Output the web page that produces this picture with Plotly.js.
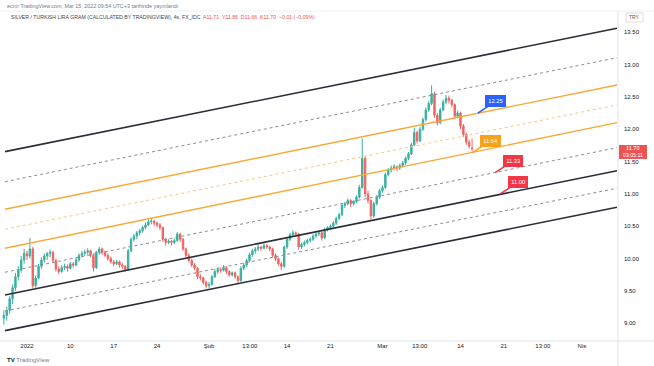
<!DOCTYPE html>
<html><head><meta charset="utf-8">
<script src="https://cdn.plot.ly/plotly-3.0.1.min.js"></script>
<style>html,body{margin:0;padding:0;background:#fff;}#chart{width:654px;height:366px;}</style>
</head><body><div id="chart"></div>
<script>
// ---- data ----
const firstBarDay = -2.667;   // trading-day index of the first bar (day 0 = 3 Jan 2022)
const barsPerDay = 3;
const openP = [9.08,9.12,9.2,9.38,9.55,9.72,9.82,9.98,
10.08,10.04,10.15, 9.58,9.7,9.88, 9.98,10.04,10.08, 10.1,9.97,9.84, 9.8,9.86,9.88, 9.85,9.92,9.9,
9.98,10.05,10.08, 10.1,10.12,10.05, 9.86,10.1,10.15, 10.1,10.05,10.0, 9.95,9.92,9.95, 9.9,9.88,9.83,
10.12,10.3,10.35, 10.4,10.43,10.48, 10.52,10.57,10.58, 10.55,10.52,10.48, 10.3,10.25,10.27, 10.25,10.28,10.38,
10.3,10.15,10.05, 9.97,9.9,9.85, 9.72,9.7,9.63, 9.58,9.6,9.72, 9.8,9.83,9.82, 9.86,9.8,9.75,
9.78,9.72,9.66, 9.85,9.9,9.97, 10.06,10.12,10.15, 10.18,10.16,10.2, 10.18,10.15,10.05, 10.0,9.92,9.88,
10.18,10.3,10.37, 10.4,10.38,10.18, 10.22,10.25,10.28, 10.3,10.35,10.38, 10.4,10.32,10.45, 10.48,10.5,10.55,
10.62,10.68,10.82, 10.85,10.9,10.85, 10.88,10.95,11.1, 11.55,11.0,10.9, 10.66,10.85,10.95, 11.05,11.1,11.3,
11.37,11.4,11.42, 11.4,11.44,11.48, 11.55,11.62,11.76, 11.95,11.82,12.0, 12.15,12.3,12.4, 12.55,12.22,12.1,
12.3,12.42,12.48, 12.45,12.38,12.2, 12.25,12.05,11.92, 11.8,11.71];
const highP = [9.2,9.26,9.42,9.6,9.78,9.88,10.04,10.15,
10.12,10.32,10.18, 9.74,9.92,10.02, 10.08,10.1,10.14, 10.12,10.0,9.88, 9.9,9.92,9.91, 9.95,9.95,10.02,
10.08,10.12,10.14, 10.16,10.14,10.08, 10.12,10.18,10.17, 10.12,10.08,10.03, 9.98,9.98,9.97, 9.93,9.9,10.15,
10.33,10.38,10.43, 10.46,10.51,10.56, 10.6,10.62,10.6, 10.57,10.55,10.5, 10.32,10.3,10.29, 10.31,10.41,10.4,
10.32,10.17,10.08, 10.0,9.93,9.87, 9.76,9.72,9.66, 9.64,9.75,9.84, 9.86,9.86,9.9, 9.88,9.82,9.8,
9.8,9.74,9.88, 9.93,10.0,10.09, 10.15,10.18,10.22, 10.2,10.24,10.23, 10.2,10.17,10.08, 10.02,9.95,10.2,
10.33,10.4,10.44, 10.42,10.4,10.25, 10.28,10.31,10.33, 10.38,10.41,10.43, 10.42,10.48,10.5, 10.53,10.58,10.65,
10.71,10.85,10.88, 10.93,10.92,10.9, 10.98,11.14,11.86, 11.58,11.05,10.92, 10.88,10.98,11.08, 11.13,11.33,11.4,
11.44,11.46,11.44, 11.47,11.51,11.58, 11.65,11.79,12.02, 11.98,12.04,12.18, 12.34,12.44,12.68, 12.58,12.25,12.33,
12.46,12.53,12.52, 12.47,12.4,12.29, 12.27,12.08,11.95, 11.84,11.86];
const lowP = [8.98,9.04,9.15,9.3,9.5,9.66,9.78,9.92,
9.98,10.0,9.54, 9.55,9.68,9.84, 9.94,9.98,10.02, 9.94,9.8,9.76, 9.78,9.82,9.8, 9.83,9.86,9.88,
9.95,10.02,10.04, 10.06,10.02,9.8, 9.84,10.06,10.06, 10.02,9.97,9.92, 9.88,9.9,9.86, 9.84,9.8,9.82,
10.1,10.26,10.3, 10.36,10.4,10.45, 10.5,10.53,10.5, 10.48,10.44,10.26, 10.2,10.22,10.2, 10.22,10.26,10.26,
10.12,10.02,9.94, 9.87,9.82,9.68, 9.66,9.6,9.54, 9.54,9.58,9.7, 9.76,9.78,9.8, 9.76,9.72,9.72,
9.69,9.62,9.64, 9.82,9.87,9.95, 10.03,10.08,10.12, 10.12,10.14,10.15, 10.12,10.02,9.96, 9.89,9.82,9.86,
10.15,10.27,10.34, 10.34,10.14,10.15, 10.19,10.22,10.25, 10.27,10.32,10.35, 10.28,10.3,10.42, 10.45,10.48,10.52,
10.6,10.66,10.78, 10.82,10.8,10.82, 10.86,10.93,11.08, 10.95,10.85,10.6, 10.63,10.82,10.92, 11.02,11.08,11.27,
11.33,11.36,11.35, 11.37,11.41,11.45, 11.52,11.6,11.74, 11.78,11.8,11.97, 12.12,12.27,12.37, 12.18,12.06,12.08,
12.28,12.39,12.4, 12.34,12.16,12.17, 12.0,11.88,11.76, 11.7,11.66];
const closeP = [9.12,9.2,9.38,9.55,9.72,9.82,9.98,10.08,
10.04,10.15,9.58, 9.7,9.88,9.98, 10.04,10.08,10.1, 9.97,9.84,9.8, 9.86,9.88,9.85, 9.92,9.9,9.98,
10.05,10.08,10.1, 10.12,10.05,9.86, 10.1,10.15,10.1, 10.05,10.0,9.95, 9.92,9.95,9.9, 9.88,9.83,10.12,
10.3,10.35,10.4, 10.43,10.48,10.52, 10.57,10.58,10.55, 10.52,10.48,10.3, 10.25,10.27,10.25, 10.28,10.38,10.3,
10.15,10.05,9.97, 9.9,9.85,9.72, 9.7,9.63,9.58, 9.6,9.72,9.8, 9.83,9.82,9.86, 9.8,9.75,9.78,
9.72,9.66,9.85, 9.9,9.97,10.06, 10.12,10.15,10.18, 10.16,10.2,10.18, 10.15,10.05,10.0, 9.92,9.88,10.18,
10.3,10.37,10.4, 10.38,10.18,10.22, 10.25,10.28,10.3, 10.35,10.38,10.4, 10.32,10.45,10.48, 10.5,10.55,10.62,
10.68,10.82,10.85, 10.9,10.85,10.88, 10.95,11.1,11.55, 11.0,10.9,10.66, 10.85,10.95,11.05, 11.1,11.3,11.37,
11.4,11.42,11.4, 11.44,11.48,11.55, 11.62,11.76,11.95, 11.82,12.0,12.15, 12.3,12.4,12.55, 12.22,12.1,12.3,
12.42,12.48,12.45, 12.38,12.2,12.25, 12.05,11.92,11.8, 11.74,11.7];

const tickDays   = [0,5,10,15,21,25.7,30,35,41,45.3,50,55,59.5,64];
const tickLabels = ['2022','10','17','24','Şub','13:00','14','21','Mar','13:00','14','21','13:00','Nis'];

// channel drawings: value at left end and right end
const chanDays  = [-2.54, 68.05];
const chanKind  = ['dark','grayDash','orange','orangeDash','orange','grayDash','dark','grayDash','dark'];
const chanStart = [11.654, 11.19, 10.763, 10.454, 10.16, 9.789, 9.438, 9.19, 8.886];
const chanEnd   = [13.562, 13.107, 12.685, 12.376, 12.102, 11.716, 11.36, 11.088, 10.794];

const calloutLabels = ['12.25','11.64','11.33','11.00'];
const calloutValues = [12.25, 11.64, 11.33, 11.00];
const calloutDays   = [52.0, 51.4, 54.0, 54.6];
const calloutColors = ['#2962ff','#f7a21b','#f23645','#f23645'];

const lastPrice = 11.70, countdown = '03:05:11';

// ---- build ----
const barX = closeP.map((_, i) => firstBarDay + i / barsPerDay);
const styles = {
  dark: {color:'#2a2e39', width:1.6},
  grayDash: {color:'#8a8d96', width:1, dash:'3px,3px'},
  orange: {color:'#f7a93a', width:1.4},
  orangeDash: {color:'#f8c784', width:1, dash:'3px,3px'}
};
const traces = [{
  type:'candlestick', x:barX, open:openP, high:highP, low:lowP, close:closeP,
  increasing:{line:{color:'#3bb0a3', width:1}, fillcolor:'#3bb0a3'},
  decreasing:{line:{color:'#f06462', width:1}, fillcolor:'#f06462'},
  whiskerwidth:0, hoverinfo:'skip', showlegend:false
}];
chanKind.forEach((k, i) => traces.push({
  type:'scatter', mode:'lines', x:chanDays, y:[chanStart[i], chanEnd[i]],
  line:styles[k], hoverinfo:'skip', showlegend:false
}));

const F = 'Liberation Sans, Arial, sans-serif';
const W = 618, H = 330, T = 11;
const py = y => (T + H - y) / H;   // page-pixel y -> paper
const annotations = [
  {xref:'paper', yref:'paper', x:5/W, y:py(6), xanchor:'left', yanchor:'middle', showarrow:false,
   text:'ecmr TradingView.com, Mar 15, 2022 09:54 UTC+3 tarihinde yayınlandı', font:{family:F, size:5.4, color:'#787b86'}},
  {xref:'paper', yref:'paper', x:9/W, y:py(17), xanchor:'left', yanchor:'middle', showarrow:false,
   text:'SILVER / TURKISH LIRA GRAM (CALCULATED BY TRADINGVIEW), 4s, FX_IDC  <span style="color:#ef5350">A11.71  Y11.86  D11.66  K11.70  −0.01 (−0.09%)</span>',
   font:{family:F, size:5.2, color:'#434651'}},
  {xref:'paper', yref:'paper', x:634.5/W, y:py(17.5), xanchor:'center', yanchor:'middle', showarrow:false,
   text:'TRY', font:{family:F, size:5, color:'#50535e'}},
  {xref:'paper', yref:'y', x:632.5/W, y:lastPrice+0.015, xanchor:'center', yanchor:'middle', showarrow:false,
   text:lastPrice.toFixed(2), font:{family:F, size:5.6, color:'#ffffff'}},
  {xref:'paper', yref:'y', x:632.5/W, y:lastPrice-0.1, xanchor:'center', yanchor:'middle', showarrow:false,
   text:countdown, font:{family:F, size:5.2, color:'#ffffff'}},
  {xref:'paper', yref:'paper', x:5/W, y:py(360), xanchor:'left', yanchor:'middle', showarrow:false,
   text:'<b>TV</b> <span style="color:#787b86">TradingView</span>', font:{family:F, size:6, color:'#131722'}}
];
calloutLabels.forEach((t, i) => annotations.push({
  x:calloutDays[i], y:calloutValues[i], xref:'x', yref:'y', text:t, showarrow:true,
  ax:18, ay:-12, arrowhead:0, arrowwidth:1.6, arrowcolor:calloutColors[i],
  bgcolor:calloutColors[i], bordercolor:calloutColors[i], borderwidth:1, borderpad:2.2,
  font:{family:F, size:5.8, color:'#ffffff'}
}));

const shapes = [
  {type:'line', xref:'paper', yref:'paper', x0:1, x1:1, y0:py(366), y1:py(T), line:{color:'#e0e3eb', width:1}},
  {type:'line', xref:'paper', yref:'paper', x0:0, x1:654/W, y0:0, y1:0, line:{color:'#e0e3eb', width:1}},
  {type:'line', xref:'paper', yref:'paper', x0:0, x1:654/W, y0:1, y1:1, line:{color:'#eef0f3', width:1}},
  {type:'rect', xref:'paper', yref:'paper', x0:626/W, x1:643/W, y0:py(22), y1:py(13), line:{color:'#d1d4dc', width:0.8}, fillcolor:'#ffffff'},
  {type:'rect', xref:'paper', yref:'y', x0:1.0016, x1:647/W, y0:11.541, y1:11.757, line:{width:0}, fillcolor:'#ef5350', layer:'above'}
];

const layout = {
  width:654, height:366, margin:{l:0, r:36, t:T, b:25},
  paper_bgcolor:'#ffffff', plot_bgcolor:'#ffffff', showlegend:false,
  xaxis:{type:'linear', range:[-3.114, 68.166], rangeslider:{visible:false},
    tickmode:'array', tickvals:tickDays, ticktext:tickLabels, showgrid:false, zeroline:false,
    showline:false, ticks:'', tickfont:{family:F, size:6, color:'#131722'}, fixedrange:true},
  yaxis:{side:'right', range:[8.726, 13.829], tick0:9, dtick:0.5, tickformat:'.2f',
    showgrid:false, zeroline:false, showline:false, ticks:'', ticklabelstandoff:5,
    tickfont:{family:F, size:6, color:'#131722'}, fixedrange:true},
  annotations, shapes
};
Plotly.newPlot('chart', traces, layout, {staticPlot:true, displayModeBar:false});
</script></body></html>
